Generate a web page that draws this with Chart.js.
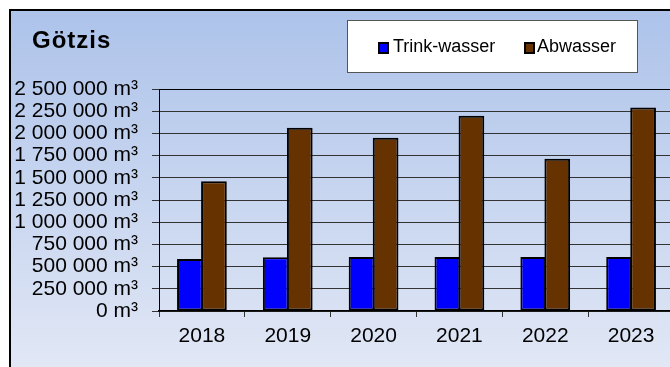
<!DOCTYPE html>
<html>
<head>
<meta charset="utf-8">
<script src="https://cdn.jsdelivr.net/npm/chart.js@4"></script>
<style>
  html, body { margin: 0; padding: 0; background: #fff; overflow: hidden; }
  #wrap { position: absolute; left: 0; top: 0; width: 682px; height: 380px; }
</style>
</head>
<body>
<div id="wrap"><canvas id="c" width="682" height="380"></canvas></div>
<script>
// Jahreswerte Götzis
const chartTitle = 'Götzis';
const years = ['2018', '2019', '2020', '2021', '2022', '2023'];
const trinkwasser = [586000, 605000, 609000, 609000, 609000, 609000];
const abwasser = [1460000, 2063000, 1950000, 2198000, 1714000, 2293000];
const seriesNames = ['Trink-wasser', 'Abwasser'];
const seriesColors = ['#0000ff', '#663300'];
const yMax = 2500000;
const yStep = 250000;

const FONT = "'Liberation Sans', Arial, sans-serif";

function formatM3(v) {
  return String(v).replace(/\B(?=(\d{3})+(?!\d))/g, ' ') + ' m³';
}

// Rahmen mit Verlaufshintergrund
const framePlugin = {
  id: 'frame',
  beforeDraw(chart) {
    const ctx = chart.ctx;
    const w = chart.width, h = chart.height;
    ctx.save();
    ctx.fillStyle = '#ffffff';
    ctx.fillRect(0, 0, w, h);
    const g = ctx.createLinearGradient(0, 10, 0, 367);
    g.addColorStop(0, '#adc3ea');
    g.addColorStop(1, '#e1e7f5');
    ctx.fillStyle = g;
    ctx.fillRect(10, 10, w - 12, h - 12);
    ctx.strokeStyle = '#000000';
    ctx.lineWidth = 2;
    ctx.strokeRect(10, 10, w - 12, h - 12);
    ctx.restore();
  }
};

// Titel und Legende
const headerPlugin = {
  id: 'header',
  afterDraw(chart) {
    const ctx = chart.ctx;
    ctx.save();
    ctx.fillStyle = '#000';
    ctx.font = 'bold 24px ' + FONT;
    ctx.textBaseline = 'alphabetic';
    ctx.textAlign = 'left';
    if ('letterSpacing' in ctx) ctx.letterSpacing = '1px';
    ctx.fillText(chartTitle, 32, 48);
    if ('letterSpacing' in ctx) ctx.letterSpacing = '0px';

    // Legendenkasten
    ctx.fillStyle = '#ffffff';
    ctx.fillRect(347, 20, 291, 53);
    ctx.strokeStyle = '#555555';
    ctx.lineWidth = 1;
    ctx.strokeRect(347.5, 20.5, 290, 52);

    const items = [
      { x: 379, tx: 393 },
      { x: 525, tx: 537 }
    ];
    ctx.font = '18px ' + FONT;
    chart.data.datasets.forEach((ds, i) => {
      const it = items[i];
      ctx.fillStyle = ds.backgroundColor;
      ctx.fillRect(it.x, 43, 9, 10);
      ctx.strokeStyle = '#000';
      ctx.lineWidth = 2;
      ctx.strokeRect(it.x, 43, 9, 10);
      ctx.fillStyle = '#000';
      ctx.fillText(ds.label, it.tx, 52);
    });
    ctx.restore();
  }
};

new Chart(document.getElementById('c'), {
  type: 'bar',
  data: {
    labels: years,
    datasets: [
      { label: seriesNames[0], data: trinkwasser, backgroundColor: seriesColors[0],
        borderColor: '#000', borderWidth: 2, borderSkipped: false },
      { label: seriesNames[1], data: abwasser, backgroundColor: seriesColors[1],
        borderColor: '#000', borderWidth: 2, borderSkipped: false }
    ]
  },
  options: {
    responsive: false,
    animation: false,
    devicePixelRatio: 1,
    layout: { padding: { left: 0, top: 89, right: 8, bottom: 0 } },
    plugins: {
      legend: { display: false },
      title: { display: false },
      tooltip: { enabled: false }
    },
    datasets: { bar: { barPercentage: 1.07, categoryPercentage: 0.56 } },
    scales: {
      x: {
        offset: true,
        grid: { display: true, drawOnChartArea: false, tickLength: 6, color: '#333', tickWidth: 1 },
        border: { display: true, color: '#000', width: 1.5 },
        ticks: { color: '#000', font: { family: FONT, size: 21 }, padding: 7, maxRotation: 0, autoSkip: false },
        afterFit(scale) { scale.height = 69; }
      },
      y: {
        min: 0,
        max: yMax,
        grid: {
          color: (c) => (c.tick && c.tick.value === yMax) ? '#000' : '#333',
          lineWidth: 1,
          tickLength: 7,
          tickColor: '#333'
        },
        border: { display: true, color: '#000', width: 1 },
        ticks: {
          stepSize: yStep,
          autoSkip: false,
          color: '#000',
          font: { family: FONT, size: 21 },
          padding: 14,
          callback: (v) => formatM3(v)
        },
        afterFit(scale) { scale.width = 159; }
      }
    }
  },
  plugins: [framePlugin, headerPlugin]
});
</script>
</body>
</html>
